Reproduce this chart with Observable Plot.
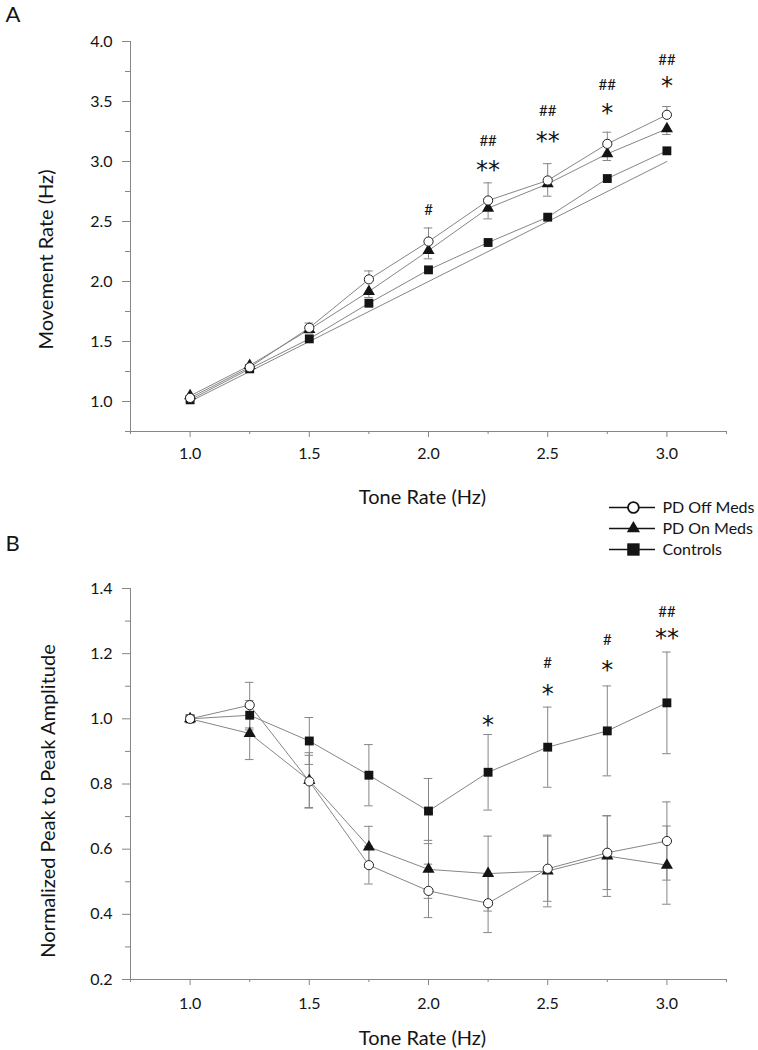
<!DOCTYPE html>
<html><head><meta charset="utf-8">
<script src="https://cdn.jsdelivr.net/npm/d3@7"></script>
<script src="https://cdn.jsdelivr.net/npm/@observablehq/plot@0.6"></script>
<style>
body{margin:0;background:#fff;}
#wrap{position:relative;width:758px;height:1050px;overflow:hidden;background:#fff;}
</style></head><body><div id="wrap"></div>
<script>
// ---------- data ----------
const toneRates = [1.0, 1.25, 1.5, 1.75, 2.0, 2.25, 2.5, 2.75, 3.0];
const seriesNames = ["PD Off Meds", "PD On Meds", "Controls"];

// Panel A: movement rate (Hz)
const rateOff     = [1.03, 1.285, 1.614, 2.018, 2.333, 2.675, 2.842, 3.147, 3.389];
const rateOffErr  = [0.01, 0.02, 0.04, 0.07, 0.113, 0.147, 0.14, 0.097, 0.069];
const rateOn      = [1.047, 1.30, 1.60, 1.917, 2.258, 2.611, 2.814, 3.064, 3.272];
const rateOnErr   = [0.01, 0.02, 0.03, 0.05, 0.069, 0.089, 0.103, 0.056, 0.047];
const rateCtrl    = [1.014, 1.272, 1.522, 1.819, 2.097, 2.325, 2.536, 2.858, 3.089];
const unityTone   = [1.0, 3.0];
const unityRate   = [1.0, 3.0];

// Panel B: normalized peak-to-peak amplitude
const ampOff      = [1.0, 1.042, 0.808, 0.551, 0.472, 0.434, 0.540, 0.589, 0.625];
const ampOffErr   = [0, 0.07, 0.08, 0.058, 0.082, 0.09, 0.10, 0.113, 0.12];
const ampOn       = [1.0, 0.955, 0.811, 0.607, 0.538, 0.525, 0.533, 0.579, 0.551];
const ampOnErr    = [0, 0.08, 0.085, 0.063, 0.089, 0.115, 0.11, 0.124, 0.12];
const ampCtrl     = [1.0, 1.011, 0.932, 0.827, 0.717, 0.836, 0.913, 0.963, 1.049];
const ampCtrlErr  = [0, 0.045, 0.072, 0.094, 0.10, 0.116, 0.123, 0.138, 0.156];

// significance marks (tone rate, level, symbol)
const hashA = {tone: [2.0, 2.25, 2.5, 2.75, 3.0], level: [2.592, 3.169, 3.417, 3.639, 3.847], mark: ["#", "##", "##", "##", "##"]};
const starA = {tone: [2.25, 2.5, 2.75, 3.0], level: [2.98, 3.217, 3.453, 3.68], mark: ["**", "**", "*", "*"]};
const hashB = {tone: [2.5, 2.75, 3.0], level: [1.17, 1.24, 1.326], mark: ["#", "#", "##"]};
const starB = {tone: [2.25, 2.5, 2.75, 3.0], level: [1.0, 1.094, 1.167, 1.265], mark: ["*", "*", "*", "**"]};

// axis ticks
const xMajor = [1.0, 1.5, 2.0, 2.5, 3.0];
const xMinor = [0.75, 1.25, 1.75, 2.25, 2.75, 3.25];
const yMajorA = [1.0, 1.5, 2.0, 2.5, 3.0, 3.5, 4.0];
const yMinorA = [0.75, 1.25, 1.75, 2.25, 2.75, 3.25, 3.75];
const yMajorB = [0.2, 0.4, 0.6, 0.8, 1.0, 1.2, 1.4];
const yMinorB = [0.3, 0.5, 0.7, 0.9, 1.1, 1.3];

const xTitle = "Tone Rate (Hz)";
const yTitleA = "Movement Rate (Hz)";
const yTitleB = "Normalized Peak to Peak Amplitude";

// ---------- helpers ----------
const gray = "#868686";
const ink = "#141414";
const FONT = "Lato, 'Open Sans', sans-serif";
const capHalf = 0.018;

function rows(values, errs) {
  return toneRates.map((t, i) => ({tone: t, value: values[i], err: errs ? errs[i] : 0}));
}
function table(o) {
  return o.tone.map((t, i) => ({tone: t, level: o.level[i], mark: o.mark[i]}));
}
const styleFor = {
  "PD Off Meds": {symbol: "circle", fill: "white", stroke: "#222", r: 4.6, strokeWidth: 1},
  "PD On Meds": {symbol: "triangle", fill: ink, stroke: "none", r: 4.5},
  "Controls": {symbol: "square", fill: ink, stroke: "none", r: 5.0}
};

function axisMarks(yMajor, yMinor, yLo, labelPad) {
  return [
    Plot.ruleX([0.75], {stroke: gray, strokeWidth: 1}),
    Plot.ruleY([yLo], {stroke: gray, strokeWidth: 1}),
    Plot.axisX(xMinor, {tickSize: 3, tickFormat: () => "", stroke: gray, label: null}),
    Plot.axisX(xMajor, {tickSize: 6, tickPadding: labelPad, tickFormat: d3.format(".1f"), stroke: gray, fill: ink, fontSize: 16, fontFamily: FONT, label: null}),
    Plot.axisY(yMinor, {tickSize: 5, tickFormat: () => "", stroke: gray, label: null}),
    Plot.axisY(yMajor, {tickSize: 8, tickPadding: 10, tickFormat: d3.format(".1f"), stroke: gray, fill: ink, fontSize: 16, fontFamily: FONT, label: null})
  ];
}

function seriesMarks(name, data, errMode) {
  const marks = [];
  const withErr = data.filter(d => d.err > 0);
  const lo = d => errMode === "up" ? d.value : d.value - d.err;
  const hi = d => errMode === "down" ? d.value : d.value + d.err;
  marks.push(Plot.ruleX(withErr, {x: "tone", y1: lo, y2: hi, stroke: gray, strokeWidth: 1}));
  if (errMode !== "down") marks.push(Plot.ruleY(withErr, {y: hi, x1: d => d.tone - capHalf, x2: d => d.tone + capHalf, stroke: gray, strokeWidth: 1}));
  if (errMode !== "up") marks.push(Plot.ruleY(withErr, {y: lo, x1: d => d.tone - capHalf, x2: d => d.tone + capHalf, stroke: gray, strokeWidth: 1}));
  return marks;
}
function dotMarks(name, data) {
  const s = styleFor[name];
  return Plot.dot(data, {x: "tone", y: "value", symbol: s.symbol, fill: s.fill, stroke: s.stroke, strokeWidth: s.strokeWidth || 0, r: s.r});
}
function lineMark(data) {
  return Plot.line(data, {x: "tone", y: "value", stroke: gray, strokeWidth: 1});
}
function annotMarks(hash, star) {
  return [
    Plot.text(table(hash), {x: "tone", y: "level", text: "mark", fontSize: 15, fontFamily: FONT, fill: ink, lineAnchor: "middle"}),
    Plot.text(table(star), {x: "tone", y: "level", text: "mark", fontSize: 24, fontFamily: "DejaVu Sans", fill: ink, lineAnchor: "middle", dy: 6})
  ];
}

const wrap = document.getElementById("wrap");
function place(el, left, top) {
  el.style.position = "absolute";
  el.style.left = left + "px";
  el.style.top = top + "px";
  el.style.maxWidth = "none";
  wrap.appendChild(el);
}

// ---------- Panel A ----------
const aOff = rows(rateOff, rateOffErr), aOn = rows(rateOn, rateOnErr), aCtrl = rows(rateCtrl);
const unity = unityTone.map((t, i) => ({tone: t, value: unityRate[i]}));
const plotA = Plot.plot({
  width: 758, height: 520,
  marginLeft: 130, marginRight: 32, marginTop: 41, marginBottom: 89,
  x: {domain: [0.75, 3.25]},
  y: {domain: [0.75, 4.0]},
  style: {fontFamily: FONT, background: "transparent", overflow: "visible"},
  marks: [
    ...axisMarks(yMajorA, yMinorA, 0.75, 10),
    lineMark(unity), lineMark(aCtrl), lineMark(aOn), lineMark(aOff),
    ...seriesMarks("PD Off Meds", aOff, "up"),
    ...seriesMarks("PD On Meds", aOn, "down"),
    dotMarks("Controls", aCtrl), dotMarks("PD On Meds", aOn), dotMarks("PD Off Meds", aOff),
    ...annotMarks(hashA, starA),
    Plot.text([xTitle], {text: d => d, frameAnchor: "bottom", textAnchor: "middle", dy: 66, dx: -6, fontSize: 20, fontFamily: FONT, fill: ink, lineAnchor: "middle"}),
    Plot.text([yTitleA], {text: d => d, frameAnchor: "left", textAnchor: "middle", rotate: -90, dx: -84, dy: 23, fontSize: 20, fontFamily: FONT, fill: ink, lineAnchor: "middle"}),
    Plot.text(["A"], {text: d => d, frameAnchor: "top-left", textAnchor: "start", lineAnchor: "top", dx: -125, dy: -35, fontSize: 22, fontFamily: FONT, fill: ink})
  ]
});
place(plotA, 0, 0);

// ---------- Panel B ----------
const bOff = rows(ampOff, ampOffErr), bOn = rows(ampOn, ampOnErr), bCtrl = rows(ampCtrl, ampCtrlErr);
const plotB = Plot.plot({
  width: 758, height: 530,
  marginLeft: 130, marginRight: 32, marginTop: 68, marginBottom: 71,
  x: {domain: [0.75, 3.25]},
  y: {domain: [0.2, 1.4]},
  style: {fontFamily: FONT, background: "transparent", overflow: "visible"},
  marks: [
    ...axisMarks(yMajorB, yMinorB, 0.2, 12),
    lineMark(bCtrl), lineMark(bOn), lineMark(bOff),
    ...seriesMarks("Controls", bCtrl, "both"),
    ...seriesMarks("PD On Meds", bOn, "both"),
    ...seriesMarks("PD Off Meds", bOff, "both"),
    dotMarks("Controls", bCtrl), dotMarks("PD On Meds", bOn), dotMarks("PD Off Meds", bOff),
    ...annotMarks(hashB, starB),
    Plot.text([xTitle], {text: d => d, frameAnchor: "bottom", textAnchor: "middle", dy: 59, dx: -6, fontSize: 20, fontFamily: FONT, fill: ink, lineAnchor: "middle"}),
    Plot.text([yTitleB], {text: d => d, frameAnchor: "left", textAnchor: "middle", rotate: -90, dx: -82, dy: 17, fontSize: 20, fontFamily: FONT, fill: ink, lineAnchor: "middle"}),
    Plot.text(["B"], {text: d => d, frameAnchor: "top-left", textAnchor: "start", lineAnchor: "top", dx: -125, dy: -53, fontSize: 22, fontFamily: FONT, fill: ink})
  ]
});
place(plotB, 0, 520);

// ---------- Legend ----------
const legendStyle = {
  "PD Off Meds": {symbol: "circle", fill: "white", stroke: ink, r: 5.4, strokeWidth: 1.8},
  "PD On Meds": {symbol: "triangle", fill: ink, stroke: "none", r: 4.9, strokeWidth: 0},
  "Controls": {symbol: "square", fill: ink, stroke: "none", r: 7.0, strokeWidth: 0}
};
const legend = Plot.plot({
  width: 158, height: 76,
  marginLeft: 9, marginRight: 103, marginTop: 16, marginBottom: 17,
  x: {domain: [0, 1], axis: null},
  y: {type: "point", domain: seriesNames, axis: null, padding: 0},
  style: {fontFamily: FONT, background: "transparent", overflow: "visible"},
  marks: [
    Plot.ruleY(seriesNames, {y: d => d, x1: () => 0, x2: () => 1, stroke: ink, strokeWidth: 1.4}),
    ...seriesNames.map(n => Plot.dot([n], {x: () => 0.52, y: d => d, symbol: legendStyle[n].symbol, fill: legendStyle[n].fill, stroke: legendStyle[n].stroke, strokeWidth: legendStyle[n].strokeWidth, r: legendStyle[n].r})),
    Plot.text(seriesNames, {x: () => 1, y: d => d, text: d => d, textAnchor: "start", dx: 7, fontSize: 16, fontFamily: FONT, fill: ink})
  ]
});
place(legend, 600, 490);
</script></body></html>
